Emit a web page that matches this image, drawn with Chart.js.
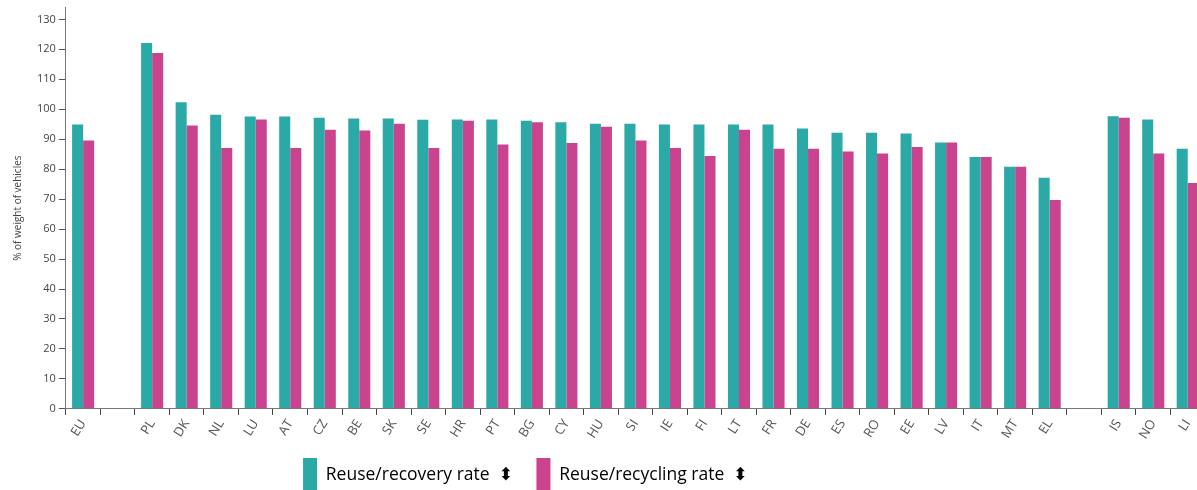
<!DOCTYPE html>
<html lang="en">
<head>
<meta charset="UTF-8" />
<title>End-of-life vehicles: reuse and recovery rates</title>
<style>
  html, body {
    margin: 0;
    padding: 0;
    background: #fff;
    overflow: hidden;
  }
  #wrap {
    width: 1205px;
    height: 502px;
    position: relative;
  }
</style>
<script src="https://cdn.jsdelivr.net/npm/chart.js"></script>
</head>
<body>

<div id="wrap">
  <canvas id="elvChart"></canvas>
</div>

<script>
  // countries ('' = spacer between groups)
  const countries = ['EU', '', 'PL', 'DK', 'NL', 'LU', 'AT', 'CZ', 'BE', 'SK', 'SE', 'HR', 'PT', 'BG', 'CY', 'HU',
    'SI', 'IE', 'FI', 'LT', 'FR', 'DE', 'ES', 'RO', 'EE', 'LV', 'IT', 'MT', 'EL', '', 'IS', 'NO', 'LI'];

  const recoveryRate = [94.9, null, 122.1, 102.3, 98.2, 97.6, 97.6, 97.2, 96.9, 96.9, 96.5, 96.6, 96.6, 96.2, 95.7, 95.2,
    95.2, 94.9, 94.9, 94.9, 94.9, 93.6, 92.2, 92.2, 91.9, 88.9, 84.1, 80.8, 77.1, null, 97.7, 96.6, 86.8];

  const recyclingRate = [89.6, null, 118.8, 94.6, 87.1, 96.6, 87.1, 93.2, 92.9, 95.2, 87.1, 96.2, 88.2, 95.7, 88.7, 94.2,
    89.6, 87.1, 84.4, 93.2, 86.8, 86.8, 85.9, 85.2, 87.4, 88.9, 84.1, 80.8, 69.7, null, 97.2, 85.2, 75.4];

  const yTicks = [0, 10, 20, 30, 40, 50, 60, 70, 80, 90, 100, 110, 120, 130];

  const seriesNames = ['Reuse/recovery rate', 'Reuse/recycling rate'];
  const tealColor = '#2ba9a7';
  const pinkColor = '#c9438f';
  const fontFamily = "'Open Sans', 'DejaVu Sans', sans-serif";

  // move the legend to the left, like in the original page
  const legendShift = {
    id: 'legendShift',
    afterLayout(chart) {
      const lg = chart.legend;
      if (!lg) return;
      lg.left -= 83;
      lg.right -= 83;
    }
  };

  const ctx = document.getElementById('elvChart').getContext('2d');
  const chart = new Chart(ctx, {
    type: 'bar',
    data: {
      labels: countries,
      datasets: [
        {
          label: seriesNames[0],
          data: recoveryRate,
          backgroundColor: tealColor,
          categoryPercentage: 0.64,
          barPercentage: 1.0
        },
        {
          label: seriesNames[1],
          data: recyclingRate,
          backgroundColor: pinkColor,
          categoryPercentage: 0.64,
          barPercentage: 1.0
        }
      ]
    },
    options: {
      responsive: true,
      maintainAspectRatio: false,
      animation: false,
      layout: { padding: { top: 0, left: 12, right: 0, bottom: 0 } },
      scales: {
        x: {
          grid: { display: true, drawOnChartArea: false, offset: true, tickLength: 6, color: '#444' },
          border: { display: true, color: '#777' },
          ticks: {
            color: '#555',
            font: { family: fontFamily, size: 13 },
            minRotation: 58,
            maxRotation: 58,
            autoSkip: false,
            padding: 2
          }
        },
        y: {
          min: 0,
          max: 134,
          afterBuildTicks: axis => { axis.ticks = yTicks.map(v => ({ value: v })); },
          grid: { drawOnChartArea: false, tickLength: 7, color: '#555' },
          border: { display: true, color: '#777' },
          ticks: {
            color: '#444',
            font: { family: fontFamily, size: 11, lineHeight: 0.8 },
            padding: 3
          },
          title: {
            display: true,
            text: '% of weight of vehicles',
            color: '#444',
            font: { family: fontFamily, size: 10 },
            padding: { top: 0, bottom: 10 }
          }
        }
      },
      plugins: {
        tooltip: { enabled: false },
        legend: {
          position: 'bottom',
          labels: {
            color: '#444',
            font: { family: fontFamily, size: 17.5 },
            boxWidth: 14,
            boxHeight: 34,
            padding: 14,
            generateLabels: ch => ch.data.datasets.map((ds, i) => ({
              text: ds.label + '  \u2B0D' + (i === 0 ? '  ' : ''),
              fillStyle: ds.backgroundColor,
              strokeStyle: ds.backgroundColor,
              lineWidth: 0,
              hidden: false,
              datasetIndex: i
            }))
          }
        }
      }
    },
    plugins: [legendShift]
  });
</script>

</body>
</html>
